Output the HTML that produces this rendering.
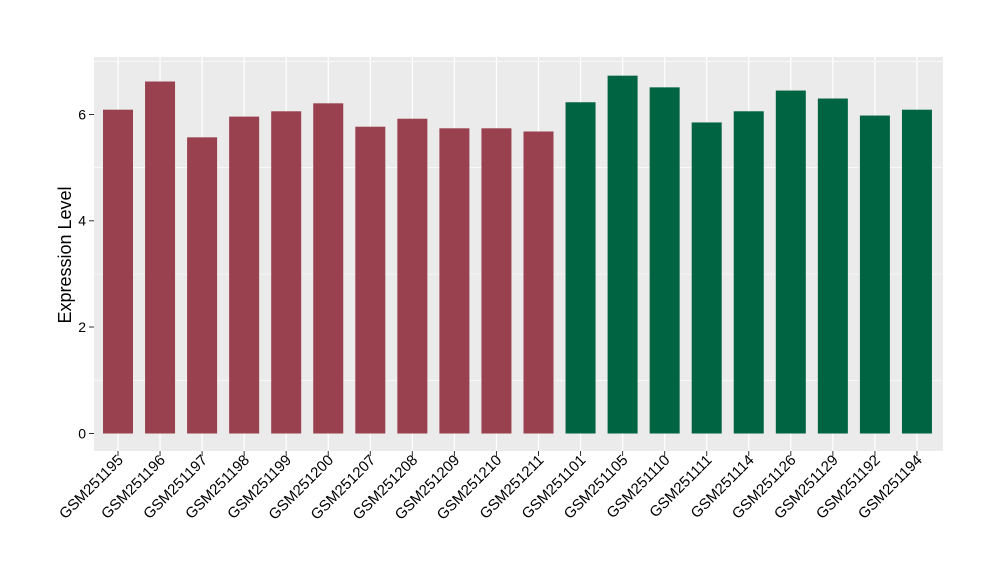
<!DOCTYPE html>
<html><head><meta charset="utf-8"><style>body{margin:0;background:#fff}</style></head>
<body>
<svg width="1000" height="580" xmlns="http://www.w3.org/2000/svg" font-family="Liberation Sans, sans-serif">
<rect x="94" y="57" width="849" height="394" fill="#EBEBEB"/>
<g stroke="#fff" stroke-width="0.6">
<line x1="94" x2="943" y1="380.3" y2="380.3"/><line x1="94" x2="943" y1="274" y2="274"/><line x1="94" x2="943" y1="167.6" y2="167.6"/><line x1="94" x2="943" y1="61.3" y2="61.3"/>
</g>
<g stroke="#fff" stroke-width="1.2" id="g"></g>
<g id="b"></g>
<g font-size="14" fill="#000" text-anchor="end">
<text x="86" y="438.5">0</text><text x="86" y="332">2</text><text x="86" y="225.5">4</text><text x="86" y="119.5">6</text>
</g>
<g stroke="#333" stroke-width="1"><line x1="89" x2="94" y1="433.5" y2="433.5"/><line x1="89" x2="94" y1="327" y2="327"/><line x1="89" x2="94" y1="220.8" y2="220.8"/><line x1="89" x2="94" y1="114.5" y2="114.5"/></g>
<text transform="translate(71,255) rotate(-90)" font-size="18" text-anchor="middle" fill="#000">Expression Level</text>
<g id="l" font-size="15" fill="#000" text-anchor="end"></g>
</svg>
<script>
var v=[6.09,6.62,5.57,5.96,6.06,6.21,5.77,5.92,5.74,5.74,5.68,6.23,6.73,6.51,5.85,6.06,6.45,6.30,5.98,6.09];
var n=["GSM251195","GSM251196","GSM251197","GSM251198","GSM251199","GSM251200","GSM251207","GSM251208","GSM251209","GSM251210","GSM251211","GSM251101","GSM251105","GSM251110","GSM251111","GSM251114","GSM251126","GSM251129","GSM251192","GSM251194"];
var g="",b="",l="";
for(var i=0;i<20;i++){var c=118+i*42.05,t=433.5-v[i]*53.17;
g+='<line x1="'+c+'" x2="'+c+'" y1="57" y2="451"/>';
b+='<rect x="'+(c-15)+'" y="'+t+'" width="30" height="'+(433.5-t)+'" fill="'+(i<11?'#99414F':'#006443')+'"/>';
b+='<line x1="'+c+'" x2="'+c+'" y1="451" y2="456" stroke="#333"/>';
l+='<text transform="translate('+(c+6)+',461) rotate(-45)">'+n[i]+'</text>';}
document.getElementById('g').innerHTML=g;document.getElementById('b').innerHTML=b;document.getElementById('l').innerHTML=l;
</script>
</body></html>
